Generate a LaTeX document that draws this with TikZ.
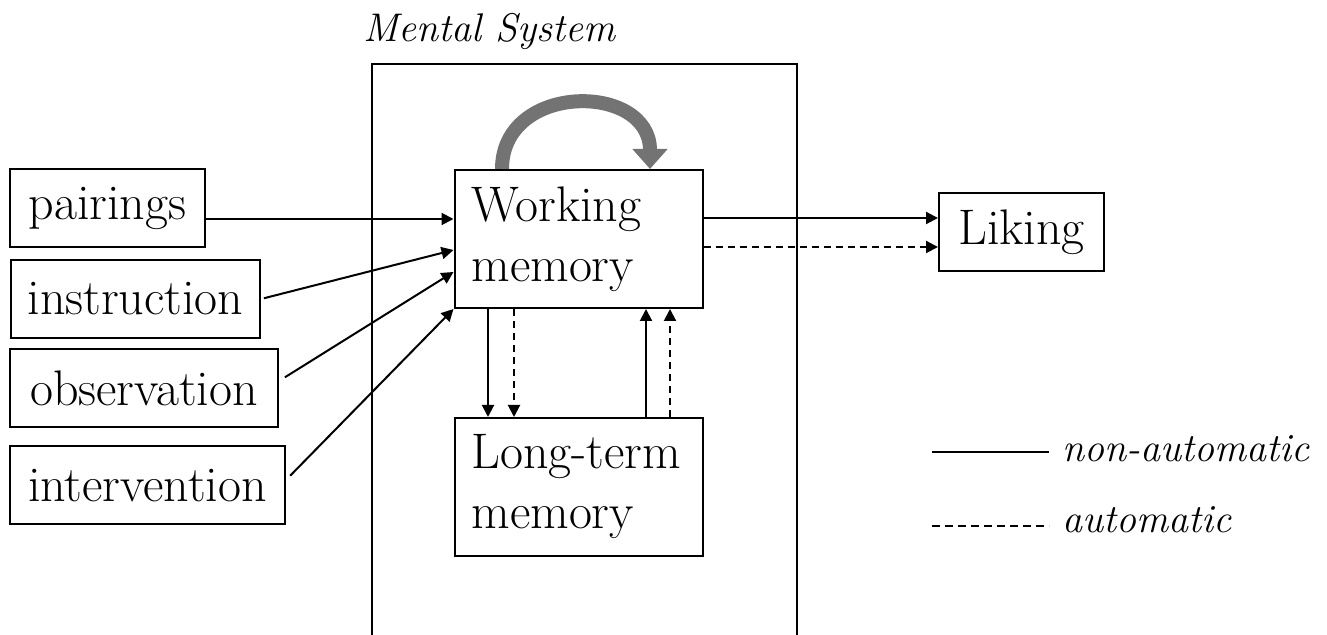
\documentclass[tikz,border=0pt]{standalone}
\usetikzlibrary{arrows.meta,positioning}

\begin{document}
\begin{tikzpicture}[x=0.5pt, y=-0.5pt,
    every node/.style={font=\fontsize{25}{30}\selectfont},
    b/.style={draw, line width=1pt, inner sep=0pt, minimum height=39pt},
    mem/.style={b, minimum height=69pt, text width=107pt, inner xsep=8.5pt, align=left},
    arr/.style={line width=1pt, -{Triangle[length=6pt,width=6pt]}},
    auto arr/.style={arr, dash pattern=on 3.5pt off 2.5pt},
    lbl/.style={font=\fontsize{20}{25}\selectfont\itshape}]
  \useasboundingbox (0,0) rectangle (1327,635);

  % the mental system frame (runs off the bottom)
  \node[draw, line width=1pt, minimum width=212.5pt, minimum height=300pt, anchor=north west] (system) at (371,63) {};
  \node[lbl, anchor=base west] (systitle) at (356,42) {Mental System};

  % inputs
  \node[b, minimum width=97.5pt] (pairings) at (107.5,208) {pairings};
  \node[b, minimum width=124.5pt] (instruction) at (135.5,299) {instruction};
  \node[b, minimum width=134pt] (observation) at (144,388) {observation};
  \node[b, minimum width=137.5pt] (intervention) at (147.5,485.5) {intervention};

  % memory stores and outcome
  \node[mem] (wm) at (578.5,239) {Working\\memory};
  \node[mem, below=54pt of wm] (ltm) {Long-term\\memory};
  \node[b, minimum width=82.5pt] (liking) at (1021.5,232) {Liking};

  % rehearsal loop on top of working memory
  \draw[line width=7pt, black!55, -{Triangle[length=10pt,width=17pt]}]
    (wm.north -| 502,0) .. controls (502,82) and (650,82) .. (wm.north -| 650,0);

  \draw[arr] (pairings.east |- 0,219) -- (wm.west |- 0,219);
  \draw[arr, shorten <=1.5pt] (instruction.east |- 0,299) -- (wm.west |- 0,250);
  \draw[arr, shorten <=3.5pt] (observation.east |- 0,381) -- (wm.west |- 0,272);
  \draw[arr, shorten <=3pt] (intervention.east |- 0,480) -- (wm.south west);

  \draw[arr] (wm.east |- 0,218) -- (liking.west |- 0,218);
  \draw[auto arr] (wm.east |- 0,247) -- (liking.west |- 0,247);

  \draw[arr] (wm.south -| 488,0) -- (ltm.north -| 488,0);
  \draw[auto arr] (wm.south -| 514,0) -- (ltm.north -| 514,0);
  \draw[arr] (ltm.north -| 646,0) -- (wm.south -| 646,0);
  \draw[auto arr] (ltm.north -| 670,0) -- (wm.south -| 670,0);

  % legend
  \coordinate (solidA) at (932,452);
  \coordinate (solidB) at (1049,452);
  \coordinate (dashA) at (932,526);
  \coordinate (dashB) at (1049,526);
  \draw[line width=1pt] (solidA) -- (solidB);
  \draw[line width=1pt, dash pattern=on 4pt off 2.5pt] (dashA) -- (dashB);
  \node[lbl, anchor=base west] (nonauto) at (1055,462) {non-automatic};
  \node[lbl, anchor=base west] (autom) at (1055,532) {automatic};
\end{tikzpicture}
\end{document}
